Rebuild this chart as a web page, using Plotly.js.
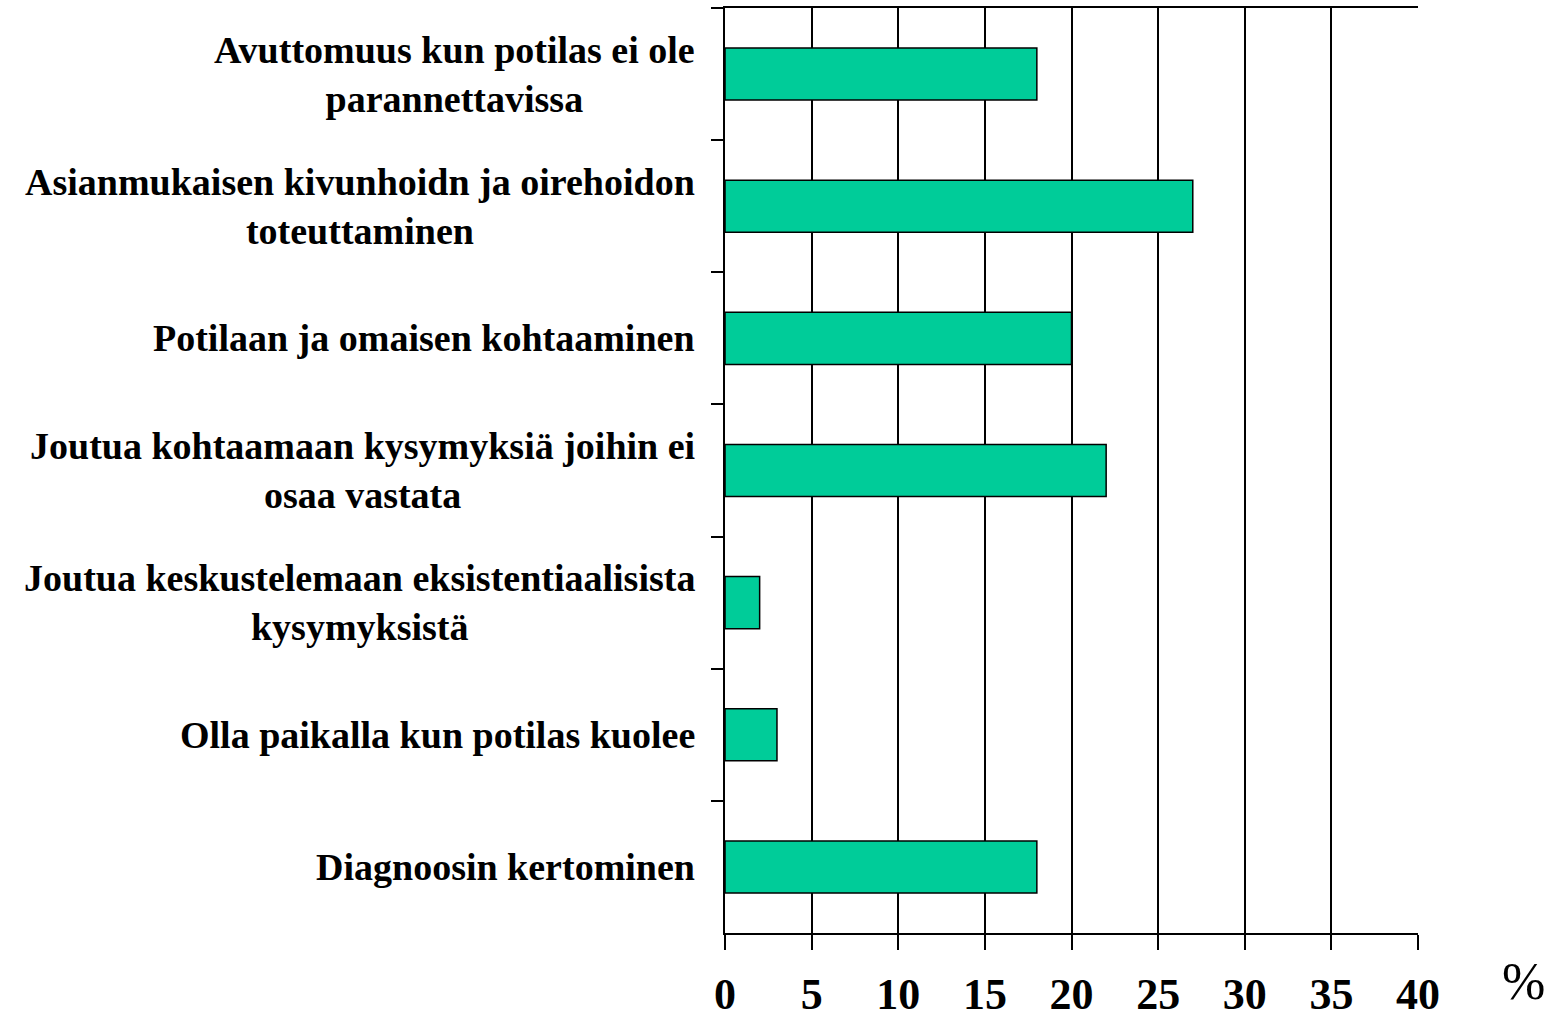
<!DOCTYPE html>
<html>
<head>
<meta charset="utf-8">
<script src="https://cdn.plot.ly/plotly-3.0.1.min.js"></script>
<style>html,body{margin:0;padding:0;background:#fff;}#chart{width:1550px;height:1021px;}</style>
</head>
<body>
<div id="chart"></div>
<script>
const categories = [
  "Avuttomuus kun potilas ei ole<br>parannettavissa",
  "Asianmukaisen kivunhoidn ja oirehoidon<br>toteuttaminen",
  "Potilaan ja omaisen kohtaaminen",
  "Joutua kohtaamaan kysymyksiä joihin ei<br>osaa vastata",
  "Joutua keskustelemaan eksistentiaalisista<br>kysymyksistä",
  "Olla paikalla kun potilas kuolee",
  "Diagnoosin kertominen"
];
const values = [18, 27, 20, 22, 2, 3, 18];
const xTicks = [0, 5, 10, 15, 20, 25, 30, 35, 40];
const unitLabel = "%";

const font = "Liberation Serif";

const trace = {
  type: 'bar',
  orientation: 'h',
  x: values,
  y: categories,
  marker: {color: '#00CC99', line: {color: '#000', width: 1.5}},
  hoverinfo: 'none'
};

const annotations = categories.map((c, i) => ({
  xref: 'paper', yref: 'y', x: 0, y: c,
  xanchor: 'right', yanchor: 'middle', align: 'center',
  xshift: -28,
  text: '<b>' + c + '</b>',
  showarrow: false,
  font: {family: font, size: 38, color: '#000'}
}));
annotations.push({
  xref: 'paper', yref: 'paper', x: 1, y: 0,
  xanchor: 'left', yanchor: 'top', xshift: 82, yshift: -18,
  text: unitLabel, showarrow: false,
  font: {family: font, size: 52, color: '#000'}
});

const layout = {
  width: 1550, height: 1021,
  margin: {l: 725, r: 132, t: 8, b: 88},
  paper_bgcolor: '#fff', plot_bgcolor: '#fff',
  bargap: 0.606,
  showlegend: false,
  xaxis: {
    range: [0, 40], tickmode: 'array', tickvals: xTicks,
    ticktext: xTicks.map(v => '<b>' + v + '</b>'),
    showgrid: true, gridcolor: '#000', gridwidth: 2,
    zeroline: false,
    showline: true, linecolor: '#000', linewidth: 2, mirror: true,
    ticks: 'outside', ticklen: 15, tickwidth: 2, tickcolor: '#000',
    ticklabelstandoff: 6,
    tickfont: {family: font, size: 44, color: '#000'},
    fixedrange: true
  },
  yaxis: {
    type: 'category', autorange: 'reversed',
    tickson: 'boundaries',
    showticklabels: false, showgrid: false, zeroline: false,
    showline: true, linecolor: '#000', linewidth: 2,
    ticks: 'outside', ticklen: 12, tickwidth: 2, tickcolor: '#000',
    fixedrange: true
  },
  annotations: annotations
};

Plotly.newPlot('chart', [trace], layout, {displayModeBar: false, staticPlot: true});
</script>
</body>
</html>
